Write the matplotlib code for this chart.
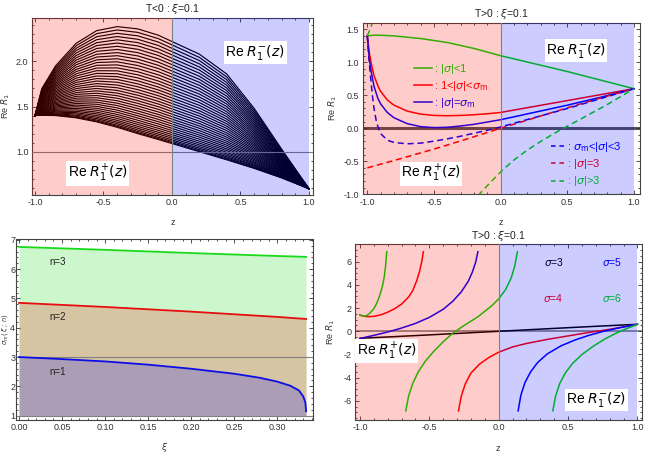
import matplotlib
matplotlib.use("agg")
import matplotlib.pyplot as plt
from matplotlib.ticker import MultipleLocator, FormatStrFormatter
from matplotlib.lines import Line2D

plt.rcParams['font.family'] = ['Liberation Sans', 'DejaVu Sans']
plt.rcParams['axes.unicode_minus'] = False
plt.rcParams['mathtext.fontset'] = 'dejavusans'

# ---- panel 1: T<0, family of curves ----
z_a = [-1, -0.95, -0.85, -0.7, -0.55, -0.4, -0.25, -0.1, 0, 0.2, 0.4, 0.6, 0.8, 1]
curves_a = [
    [1.40, 1.403, 1.400, 1.375, 1.330, 1.270, 1.200, 1.135, 1.090, 1.000, 0.910, 0.815, 0.710, 0.59],
    [1.40, 1.406, 1.405, 1.382, 1.339, 1.280, 1.210, 1.145, 1.100, 1.009, 0.918, 0.821, 0.713, 0.59],
    [1.40, 1.409, 1.412, 1.392, 1.351, 1.293, 1.224, 1.159, 1.114, 1.023, 0.930, 0.829, 0.717, 0.59],
    [1.40, 1.414, 1.420, 1.404, 1.366, 1.310, 1.241, 1.176, 1.130, 1.038, 0.944, 0.839, 0.721, 0.59],
    [1.40, 1.418, 1.428, 1.418, 1.382, 1.328, 1.260, 1.195, 1.149, 1.056, 0.959, 0.849, 0.727, 0.59],
    [1.40, 1.424, 1.438, 1.432, 1.400, 1.347, 1.280, 1.215, 1.168, 1.075, 0.976, 0.861, 0.732, 0.59],
    [1.40, 1.429, 1.448, 1.447, 1.419, 1.368, 1.302, 1.236, 1.189, 1.095, 0.993, 0.873, 0.738, 0.59],
    [1.40, 1.435, 1.459, 1.463, 1.438, 1.390, 1.324, 1.259, 1.211, 1.116, 1.012, 0.886, 0.744, 0.59],
    [1.40, 1.441, 1.470, 1.480, 1.459, 1.412, 1.348, 1.282, 1.234, 1.138, 1.031, 0.900, 0.751, 0.59],
    [1.40, 1.447, 1.482, 1.498, 1.480, 1.436, 1.373, 1.307, 1.258, 1.161, 1.051, 0.914, 0.758, 0.59],
    [1.40, 1.454, 1.494, 1.516, 1.502, 1.460, 1.398, 1.332, 1.283, 1.184, 1.072, 0.928, 0.765, 0.59],
    [1.40, 1.460, 1.506, 1.534, 1.525, 1.485, 1.424, 1.358, 1.308, 1.208, 1.093, 0.943, 0.772, 0.59],
    [1.40, 1.467, 1.519, 1.553, 1.548, 1.511, 1.451, 1.385, 1.334, 1.233, 1.115, 0.959, 0.779, 0.59],
    [1.40, 1.474, 1.532, 1.573, 1.572, 1.537, 1.478, 1.412, 1.361, 1.259, 1.138, 0.974, 0.787, 0.59],
    [1.40, 1.481, 1.545, 1.593, 1.597, 1.564, 1.506, 1.440, 1.388, 1.285, 1.161, 0.991, 0.794, 0.59],
    [1.40, 1.489, 1.559, 1.613, 1.622, 1.592, 1.535, 1.469, 1.416, 1.312, 1.184, 1.007, 0.802, 0.59],
    [1.40, 1.496, 1.573, 1.634, 1.647, 1.620, 1.564, 1.498, 1.445, 1.339, 1.208, 1.024, 0.810, 0.59],
    [1.40, 1.504, 1.587, 1.655, 1.673, 1.649, 1.594, 1.528, 1.474, 1.367, 1.233, 1.041, 0.819, 0.59],
    [1.40, 1.512, 1.601, 1.677, 1.700, 1.678, 1.625, 1.558, 1.504, 1.395, 1.258, 1.058, 0.827, 0.59],
    [1.40, 1.520, 1.616, 1.699, 1.727, 1.708, 1.655, 1.589, 1.534, 1.424, 1.283, 1.076, 0.836, 0.59],
    [1.40, 1.528, 1.631, 1.721, 1.754, 1.738, 1.687, 1.620, 1.564, 1.453, 1.309, 1.094, 0.844, 0.59],
    [1.40, 1.536, 1.646, 1.744, 1.782, 1.769, 1.719, 1.652, 1.595, 1.483, 1.335, 1.112, 0.853, 0.59],
    [1.40, 1.544, 1.661, 1.767, 1.810, 1.800, 1.751, 1.684, 1.627, 1.513, 1.361, 1.131, 0.862, 0.59],
    [1.40, 1.552, 1.677, 1.790, 1.838, 1.831, 1.784, 1.716, 1.659, 1.544, 1.388, 1.150, 0.871, 0.59],
    [1.40, 1.561, 1.693, 1.814, 1.867, 1.863, 1.817, 1.750, 1.691, 1.575, 1.415, 1.169, 0.880, 0.59],
    [1.40, 1.570, 1.709, 1.838, 1.897, 1.895, 1.851, 1.783, 1.724, 1.606, 1.443, 1.188, 0.889, 0.59],
    [1.40, 1.578, 1.725, 1.862, 1.926, 1.928, 1.885, 1.817, 1.757, 1.638, 1.471, 1.208, 0.899, 0.59],
    [1.40, 1.587, 1.741, 1.887, 1.956, 1.961, 1.919, 1.851, 1.791, 1.670, 1.499, 1.227, 0.908, 0.59],
    [1.40, 1.596, 1.758, 1.911, 1.987, 1.995, 1.954, 1.886, 1.825, 1.702, 1.528, 1.247, 0.918, 0.59],
    [1.40, 1.605, 1.774, 1.936, 2.017, 2.029, 1.989, 1.921, 1.859, 1.735, 1.556, 1.267, 0.928, 0.59],
    [1.40, 1.614, 1.791, 1.962, 2.048, 2.063, 2.025, 1.956, 1.893, 1.768, 1.585, 1.288, 0.937, 0.59],
    [1.40, 1.623, 1.808, 1.987, 2.079, 2.097, 2.061, 1.992, 1.928, 1.801, 1.615, 1.308, 0.947, 0.59],
    [1.40, 1.633, 1.825, 2.013, 2.111, 2.132, 2.097, 2.028, 1.964, 1.835, 1.645, 1.329, 0.957, 0.59],
    [1.40, 1.642, 1.843, 2.039, 2.143, 2.167, 2.134, 2.065, 1.999, 1.869, 1.675, 1.350, 0.968, 0.59],
    [1.40, 1.651, 1.860, 2.065, 2.175, 2.203, 2.171, 2.101, 2.035, 1.904, 1.705, 1.371, 0.978, 0.59],
    [1.40, 1.661, 1.878, 2.092, 2.207, 2.239, 2.208, 2.138, 2.072, 1.938, 1.735, 1.392, 0.988, 0.59],
    [1.40, 1.671, 1.896, 2.119, 2.240, 2.275, 2.245, 2.176, 2.108, 1.973, 1.766, 1.414, 0.998, 0.59],
    [1.40, 1.680, 1.914, 2.145, 2.273, 2.311, 2.283, 2.214, 2.145, 2.009, 1.797, 1.436, 1.009, 0.59],
    [1.40, 1.690, 1.932, 2.173, 2.307, 2.348, 2.321, 2.252, 2.183, 2.044, 1.828, 1.458, 1.019, 0.59],
    [1.40, 1.700, 1.950, 2.200, 2.340, 2.385, 2.360, 2.290, 2.220, 2.080, 1.860, 1.480, 1.030, 0.59],
]

# ---- panel 2: T>0, one curve per sigma range ----
z_b_lt1 = [-1, -0.95, -0.9, -0.8, -0.6, -0.4, -0.2, 0, 0.25, 0.5, 0.75, 1]
v_b_lt1 = [1.40, 1.41, 1.41, 1.40, 1.36, 1.30, 1.21, 1.10, 0.98, 0.86, 0.73, 0.60]
z_b_mid = [-1, -0.985, -0.97, -0.95, -0.92, -0.9, -0.85, -0.8, -0.7, -0.6, -0.5, -0.4,
           -0.3, -0.2, -0.1, 0, 0.25, 0.5, 0.75, 1]
v_b_mid = [1.40, 1.15, 0.98, 0.80, 0.64, 0.56, 0.43, 0.35, 0.26, 0.215, 0.195, 0.19,
           0.195, 0.205, 0.22, 0.24, 0.33, 0.42, 0.51, 0.60]
v_b_eqm = [1.40, 1.05, 0.85, 0.64, 0.45, 0.37, 0.24, 0.16, 0.07, 0.025, 0.01, 0.015,
           0.035, 0.06, 0.095, 0.13, 0.24, 0.35, 0.47, 0.60]
z_b_m3 = [-1, -0.99, -0.98, -0.97, -0.96, -0.95, -0.93, -0.9, -0.85, -0.8, -0.7, -0.6,
          -0.5, -0.4, -0.3, -0.2, -0.1, 0, 0.25, 0.5, 0.75, 1]
v_b_m3 = [1.40, 1.12, 0.88, 0.66, 0.47, 0.31, 0.08, -0.08, -0.18, -0.215, -0.235, -0.225,
          -0.195, -0.16, -0.12, -0.075, -0.03, 0.02, 0.16, 0.30, 0.45, 0.60]
z_b_eq3 = [-1, -0.75, -0.5, -0.25, 0, 0.25, 0.5, 0.75, 1]
v_b_eq3 = [-0.60, -0.46, -0.315, -0.16, 0.0, 0.155, 0.31, 0.46, 0.60]
z_b_gt3a = [-1, -0.985, -0.97, -0.955]
v_b_gt3a = [1.40, 1.47, 1.55, 1.65]
z_b_gt3b = [-0.17, -0.1, 0, 0.1, 0.2, 0.3, 0.4, 0.47, 0.6, 0.7, 0.8, 0.9, 1]
v_b_gt3b = [-1.02, -0.87, -0.66, -0.48, -0.33, -0.2, -0.08, 0.0, 0.14, 0.25, 0.36, 0.48, 0.60]

# ---- panel 3: sigma_m(xi; n) ----
xi_n3 = [0, 0.1, 0.2, 0.3, 0.3333]
sm_n3 = [6.76, 6.66, 6.55, 6.45, 6.42]
xi_n2 = [0, 0.1, 0.2, 0.3, 0.3333]
sm_n2 = [4.85, 4.71, 4.55, 4.37, 4.30]
xi_n1 = [0, 0.05, 0.1, 0.15, 0.2, 0.25, 0.28, 0.3, 0.315, 0.325, 0.33, 0.3325, 0.3333]
sm_n1 = [3.00, 2.93, 2.85, 2.74, 2.60, 2.43, 2.29, 2.16, 2.02, 1.86, 1.66, 1.45, 1.15]

# ---- panel 4: T>0, sigma = 3,4,5,6 (branches) ----
z_s3 = [-1, -0.75, -0.5, -0.25, 0, 0.25, 0.5, 0.75, 1]
v_s3 = [-0.60, -0.46, -0.31, -0.155, 0.0, 0.155, 0.31, 0.46, 0.60]
z_s4a = [-1, -0.97, -0.94, -0.9, -0.85, -0.8, -0.75, -0.7, -0.65, -0.62, -0.59, -0.57, -0.555, -0.543]
v_s4a = [1.40, 1.30, 1.26, 1.29, 1.42, 1.65, 1.95, 2.35, 2.95, 3.5, 4.4, 5.2, 6.0, 6.86]
z_s4b = [-0.29, -0.27, -0.24, -0.2, -0.14, -0.07, 0, 0.1, 0.2, 0.35, 0.5, 0.65, 0.8, 0.9, 1]
v_s4b = [-6.86, -5.6, -4.5, -3.6, -2.85, -2.25, -1.8, -1.35, -1.05, -0.7, -0.4, -0.1, 0.17, 0.38, 0.60]
z_s5a = [-1, -0.9, -0.8, -0.7, -0.6, -0.5, -0.4, -0.33, -0.27, -0.22, -0.19, -0.165, -0.15]
v_s5a = [-0.62, -0.35, -0.06, 0.28, 0.68, 1.2, 1.9, 2.6, 3.4, 4.3, 5.1, 6.0, 6.86]
z_s5b = [0.14, 0.16, 0.19, 0.23, 0.28, 0.35, 0.45, 0.55, 0.65, 0.75, 0.85, 0.93, 1]
v_s5b = [-6.86, -5.5, -4.4, -3.5, -2.7, -1.95, -1.25, -0.75, -0.35, -0.02, 0.25, 0.44, 0.60]
z_s6a = [-1, -0.985, -0.97, -0.95, -0.93, -0.9, -0.88, -0.86, -0.84, -0.825, -0.815, -0.807]
v_s6a = [1.40, 1.33, 1.31, 1.36, 1.55, 1.95, 2.4, 3.0, 3.8, 4.7, 5.7, 6.86]
z_s6b = [-0.67, -0.65, -0.62, -0.58, -0.53, -0.47, -0.4, -0.33, -0.25, -0.15, -0.05, 0, 0.05, 0.09, 0.115, 0.135]
v_s6b = [-6.86, -5.6, -4.5, -3.5, -2.6, -1.75, -0.9, -0.15, 0.5, 1.25, 2.2, 2.8, 3.6, 4.6, 5.6, 6.86]
z_s6c = [0.39, 0.41, 0.44, 0.48, 0.53, 0.6, 0.68, 0.76, 0.84, 0.92, 1]
v_s6c = [-6.86, -5.6, -4.5, -3.6, -2.8, -2.0, -1.3, -0.7, -0.2, 0.22, 0.60]

RED, BLUE, GREEN = (1, 0, 0), (0, 0, 1), (0, 0.85, 0)
TICK = '#333333'


def frame(ax, xmaj, xmin, ymaj, ymin, xfmt, yfmt, ypad=2.5):
    ax.xaxis.set_major_locator(MultipleLocator(xmaj))
    ax.xaxis.set_minor_locator(MultipleLocator(xmin))
    ax.yaxis.set_major_locator(MultipleLocator(ymaj))
    ax.yaxis.set_minor_locator(MultipleLocator(ymin))
    ax.xaxis.set_major_formatter(FormatStrFormatter(xfmt))
    ax.yaxis.set_major_formatter(FormatStrFormatter(yfmt))
    ax.tick_params(which='both', direction='in', top=True, right=True,
                   labelsize=6.5, colors=TICK, pad=2.5, width=0.6)
    ax.tick_params(axis='y', which='both', pad=ypad)
    ax.tick_params(which='major', length=3)
    ax.tick_params(which='minor', length=1.6)
    for s in ax.spines.values():
        s.set_color('#444444')
        s.set_linewidth(0.8)


def regions(ax):
    x0 = ax.get_xlim()[0]
    ax.axvspan(x0, 0, color=RED, alpha=0.2, lw=0, zorder=5)
    ax.axvspan(0, 1, color=BLUE, alpha=0.2, lw=0, zorder=5)
    ax.axvline(0, color='#808080', lw=0.8, zorder=6)


def box(ax, x, y, s):
    ax.text(x, y, s, fontsize=10, ha='center', va='center', zorder=10,
            bbox=dict(boxstyle='square,pad=0.12', fc='white', ec='none'))


def texts(ax, xlabel, ylabel, title, xl, yl, yfs=6.5):
    ax.set_xlabel(xlabel, fontsize=6.5, color=TICK)
    ax.set_ylabel(ylabel, fontsize=yfs, color=TICK)
    ax.xaxis.set_label_coords(0.5, xl)
    ax.yaxis.set_label_coords(yl, 0.5)
    if title:
        ax.text(0.5, 1.05, title, transform=ax.transAxes, fontsize=7.5,
                ha='center', va='center', color='#222222')


fig = plt.figure(figsize=(6.45, 4.53), dpi=100)

# panel 1
ax1 = fig.add_axes([0.0496, 0.5695, 0.4357, 0.3907])
for c in curves_a:
    ax1.plot(z_a, c, color='black', lw=0.85, zorder=2)
ax1.axhline(1.0, color='#808080', lw=0.8, zorder=3)
ax1.set_xlim(-1.022, 1.03)
ax1.set_ylim(0.52, 2.48)
frame(ax1, 0.5, 0.1, 0.5, 0.1, '%.1f', '%.1f')
regions(ax1)
box(ax1, 0.608, 2.10, r'Re $R_1^{-}(z)$')
box(ax1, -0.543, 0.757, r'Re $R_1^{+}(z)$')
texts(ax1, 'z', r'Re $R_1$', r'T<0 : $\xi$=0.1', -0.13, -0.072)

# panel 2
ax2 = fig.add_axes([0.5623, 0.5711, 0.4299, 0.3788])
ax2.axhline(0, color='#555555', lw=2.2, zorder=1)
ax2.plot(z_b_lt1, v_b_lt1, color=GREEN, lw=1.1, zorder=2)
ax2.plot(z_b_mid, v_b_mid, color=RED, lw=1.1, zorder=2)
ax2.plot(z_b_mid, v_b_eqm, color=BLUE, lw=1.1, zorder=2)
ax2.plot(z_b_m3, v_b_m3, color=BLUE, lw=1.1, ls=(0, (4, 2.5)), zorder=2)
ax2.plot(z_b_eq3, v_b_eq3, color=RED, lw=1.1, ls=(0, (4, 2.5)), zorder=2)
ax2.plot(z_b_gt3a, v_b_gt3a, color=GREEN, lw=1.1, ls=(0, (4, 2.5)), zorder=2)
ax2.plot(z_b_gt3b, v_b_gt3b, color=GREEN, lw=1.1, ls=(0, (4, 2.5)), zorder=2)
ax2.set_xlim(-1.0345, 1.045)
ax2.set_ylim(-1.0, 1.6)
frame(ax2, 0.5, 0.1, 0.5, 0.1, '%.1f', '%.1f')
regions(ax2)
h1 = [Line2D([], [], color=GREEN, lw=1.1), Line2D([], [], color=RED, lw=1.1),
      Line2D([], [], color=BLUE, lw=1.1)]
l1 = [r': |$\sigma$|<1', r': 1<|$\sigma$|<$\sigma_{\rm m}$', r': |$\sigma$|=$\sigma_{\rm m}$']
leg1 = ax2.legend(h1, l1, loc='upper left', bbox_to_anchor=(0.165, 0.805), frameon=False,
                  fontsize=8, handlelength=1.6, handletextpad=0.2, labelspacing=0.3,
                  labelcolor='linecolor', borderpad=0)
leg1.set_zorder(4)
ax2.add_artist(leg1)
h2 = [Line2D([], [], color=BLUE, lw=1.1, ls=(0, (3, 2.5))),
      Line2D([], [], color=RED, lw=1.1, ls=(0, (3, 2.5))),
      Line2D([], [], color=GREEN, lw=1.1, ls=(0, (3, 2.5)))]
l2 = [r': $\sigma_{\rm m}$<|$\sigma$|<3', r': |$\sigma$|=3', r': |$\sigma$|>3']
leg2 = ax2.legend(h2, l2, loc='upper left', bbox_to_anchor=(0.66, 0.35), frameon=False,
                  fontsize=8, handlelength=1.2, handletextpad=0.2, labelspacing=0.3,
                  labelcolor='linecolor', borderpad=0)
leg2.set_zorder(4)
box(ax2, 0.565, 1.18, r'Re $R_1^{-}(z)$')
box(ax2, -0.522, -0.69, r'Re $R_1^{+}(z)$')
texts(ax2, 'z', r'Re $R_1$', r'T>0 : $\xi$=0.1', -0.14, -0.085)

# panel 3
ax3 = fig.add_axes([0.0248, 0.0728, 0.4600, 0.3996])
ax3.fill_between(xi_n3, 1, sm_n3, color=GREEN, alpha=0.2, lw=0, zorder=1)
ax3.fill_between(xi_n2, 1, sm_n2, color=RED, alpha=0.2, lw=0, zorder=1)
ax3.fill_between(xi_n1, 1, sm_n1, color=BLUE, alpha=0.2, lw=0, zorder=1)
ax3.axhline(3, color='#808080', lw=0.8, zorder=2)
ax3.axhline(1, color='#808080', lw=0.8, zorder=2)
ax3.plot(xi_n3, sm_n3, color=(0.1, 0.85, 0.1), lw=1.3, zorder=3)
ax3.plot(xi_n2, sm_n2, color=(0.9, 0.05, 0.05), lw=1.3, zorder=3)
ax3.plot(xi_n1, sm_n1, color=(0.05, 0.05, 0.9), lw=1.3, zorder=3)
ax3.set_xlim(-0.0035, 0.341)
ax3.set_ylim(0.85, 7.03)
frame(ax3, 0.05, 0.01, 1, 0.2, '%.2f', '%d', ypad=0.6)
for y, s in [(6.23, 'n=3'), (4.36, 'n=2'), (2.5, 'n=1')]:
    ax3.text(0.0445, y, s, fontsize=7, ha='center', va='center', color='#222222')
texts(ax3, r'$\xi$', r'$\sigma_m\,(\,\xi\,;\,n)$', None, -0.115, -0.021, yfs=4.8)

# panel 4
ax4 = fig.add_axes([0.5504, 0.0728, 0.4445, 0.3879])
ax4.axhline(0, color='#808080', lw=1.2, zorder=1)
ax4.plot(z_s3, v_s3, color='black', lw=1.1, zorder=2)
for zz, vv, col in [(z_s4a, v_s4a, RED), (z_s4b, v_s4b, RED),
                    (z_s5a, v_s5a, BLUE), (z_s5b, v_s5b, BLUE),
                    (z_s6a, v_s6a, GREEN), (z_s6b, v_s6b, GREEN), (z_s6c, v_s6c, GREEN)]:
    ax4.plot(zz, vv, color=col, lw=1.1, zorder=2)
for x, y, s, col in [(0.395, 6.0, r'$\sigma$=3', 'black'), (0.817, 6.0, r'$\sigma$=5', BLUE),
                     (0.395, 2.88, r'$\sigma$=4', RED), (0.817, 2.88, r'$\sigma$=6', GREEN)]:
    ax4.text(x, y, s, fontsize=7.5, ha='center', va='center', color=col, zorder=3)
ax4.set_xlim(-1.036, 1.031)
ax4.set_ylim(-7.65, 7.5)
frame(ax4, 0.5, 0.1, 2, 0.5, '%.1f', '%d')
regions(ax4)
box(ax4, -0.81, -1.7, r'Re $R_1^{+}(z)$')
box(ax4, 0.702, -5.92, r'Re $R_1^{-}(z)$')
texts(ax4, 'z', r'Re $R_1$', r'T>0 : $\xi$=0.1', -0.135, -0.063)

fig.savefig('out.png', dpi=100)
